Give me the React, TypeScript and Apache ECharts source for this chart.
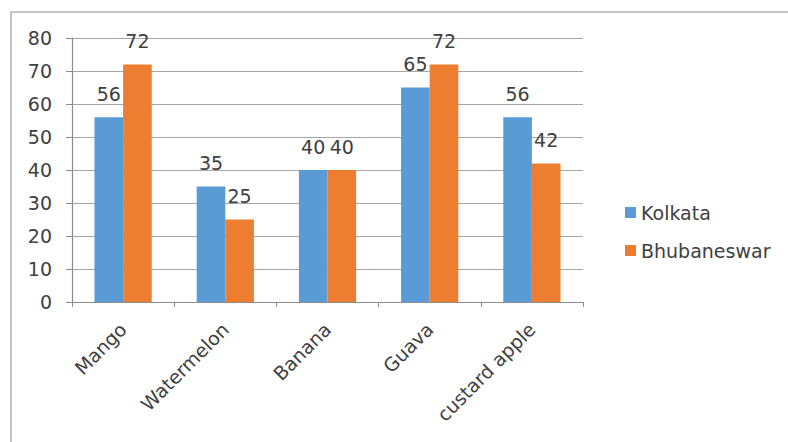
import React, { useEffect, useRef } from "react";
import * as echarts from "echarts";

const categories = ["Mango", "Watermelon", "Banana", "Guava", "custard apple"];
const kolkata = [56, 35, 40, 65, 56];
const bhubaneswar = [72, 25, 40, 72, 42];
const seriesNames = ["Kolkata", "Bhubaneswar"];

const FONT = "DejaVu Sans";
const TEXT = "#404040";
const FS = 19;

export default function App() {
  const ref = useRef<HTMLDivElement>(null);
  useEffect(() => {
    if (!ref.current) return;
    const chart = echarts.init(ref.current, null, { renderer: "svg" });
    chart.setOption({
      animation: false,
      backgroundColor: "#ffffff",
      textStyle: { fontFamily: FONT },
      graphic: [
        {
          type: "rect",
          shape: { x: 11, y: 12, width: 820, height: 460 },
          style: { fill: "none", stroke: "#b0b0b0", lineWidth: 1.5 },
          silent: true,
        },
      ],
      grid: { left: 72, right: 205, top: 38, bottom: 140, containLabel: false },
      legend: {
        orient: "vertical",
        left: 620,
        top: 198,
        itemWidth: 11,
        itemHeight: 11,
        itemGap: 19,
        icon: "rect",
        textStyle: { fontFamily: FONT, fontSize: FS, color: TEXT },
        data: seriesNames,
      },
      xAxis: {
        type: "category",
        data: categories,
        axisLine: { show: true, lineStyle: { color: "#8c8c8c", width: 1.2 } },
        axisTick: { show: true, length: 5, lineStyle: { color: "#8c8c8c" } },
        axisLabel: {
          rotate: 45,
          fontFamily: FONT,
          fontSize: FS,
          color: TEXT,
          margin: 24,
          interval: 0,
        },
      },
      yAxis: {
        type: "value",
        min: 0,
        max: 80,
        interval: 10,
        axisLine: { show: true, lineStyle: { color: "#8c8c8c", width: 1.2 } },
        axisTick: { show: true, length: 6, lineStyle: { color: "#8c8c8c" } },
        axisLabel: { fontFamily: FONT, fontSize: FS, color: TEXT, margin: 20 },
        splitLine: { show: true, lineStyle: { color: "#a6a6a6", width: 1.2 } },
      },
      series: [
        {
          name: seriesNames[0],
          type: "bar",
          data: kolkata,
          barGap: "0%",
          barCategoryGap: "44%",
          itemStyle: { color: "#5b9bd5" },
          label: {
            show: true,
            position: "top",
            distance: 14,
            fontFamily: FONT,
            fontSize: FS,
            color: TEXT,
          },
        },
        {
          name: seriesNames[1],
          type: "bar",
          data: bhubaneswar,
          barGap: "0%",
          barCategoryGap: "44%",
          itemStyle: { color: "#ed7d31" },
          label: {
            show: true,
            position: "top",
            distance: 14,
            fontFamily: FONT,
            fontSize: FS,
            color: TEXT,
          },
        },
      ],
    });
    return () => chart.dispose();
  }, []);
  return <div ref={ref} style={{ width: 788, height: 442, position: "absolute", left: 0, top: 0 }} />;
}
